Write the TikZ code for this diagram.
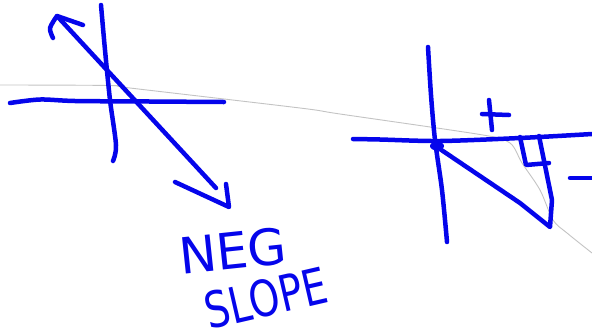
\documentclass[tikz,border=0pt]{standalone}
\usepackage{fontspec}
\newfontfamily\handfont{DejaVu Sans}
\definecolor{pen}{RGB}{5,5,235}
\definecolor{faint}{RGB}{195,195,195}
\tikzset{
  penline/.style={draw=pen, line width=4.5pt, line cap=round, line join=round},
  guide/.style={draw=faint, line width=0.9pt},
  handtext/.style={text=pen, font=\handfont\fontsize{50}{50}\selectfont, inner sep=0pt}
}
\begin{document}
\begin{tikzpicture}[x=1pt,y=-1pt]
\useasboundingbox (0,0) rectangle (592,333);
% faint guide line
\draw[guide] plot[smooth] coordinates {(0,85) (110,85.5) (130,88) (300,108) (340,114) (483,135) (510,143) (522,163) (540,190) (553,220) (567,233) (592,253)};
% ---- left figure ----
\draw[penline] plot[smooth] coordinates {(10,103) (40,99.5) (75,101) (150,101.5) (224,102)};
\draw[penline] plot[smooth] coordinates {(101,5) (105,50) (110,100) (116,145) (113,161)};
\draw[penline] (57,16) -- (216,188);
\draw[penline] plot[smooth] coordinates {(53,38) (50,28) (57,16)} -- (83,25);
\draw[penline] (175,182) -- (229,207) -- (226,184);
% ---- right figure ----
\draw[penline] plot[smooth] coordinates {(428,47) (431,95) (435,140) (442,190) (447,242)};
\draw[penline] plot[smooth] coordinates {(353,139) (380,139.5) (440,141) (520,138) (592,134)};
\fill[pen] (437,146) ellipse (7pt and 4.5pt);
\draw[penline] (437,147) -- (520,203) -- (550,227) -- (552,200) -- (539,136);
\draw[penline] (520,137) -- (526,165) -- (549,163);
\draw[penline] (489,100) -- (492,130);
\draw[penline] (482,114) -- (509,115);
\draw[penline] (570,178) -- (592,178);
% ---- label ----
\node[handtext, rotate=6] (neg) at (233,251) {NEG};
\node[handtext, rotate=13] (slope) at (266,298) {\scalebox{0.78}[1]{SLOPE}};
\end{tikzpicture}
\end{document}
